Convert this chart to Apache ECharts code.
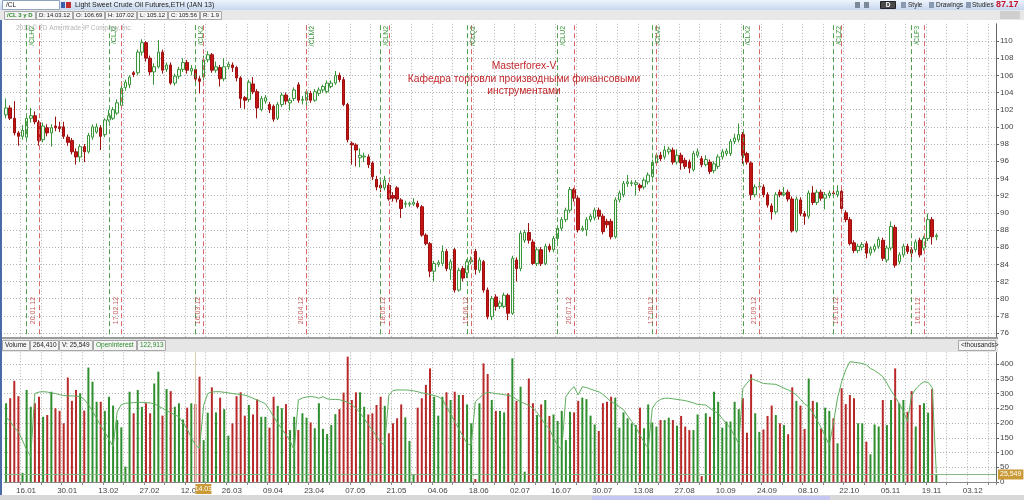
<!DOCTYPE html>
<html><head><meta charset="utf-8">
<script src="https://cdn.jsdelivr.net/npm/echarts/dist/echarts.min.js"></script>
<style>html,body{margin:0;padding:0;background:#fff}#c{width:1024px;height:500px}</style>
</head><body><div id="c"></div>
<script>
// ---------- data ----------
const firstSession = [2012, 0, 10];
const slotCount = 241;
const tickLabels = ['16.01','30.01','13.02','27.02','12.03','26.03','09.04','23.04','07.05','21.05','04.06','18.06','02.07','16.07','30.07','13.08','27.08','10.09','24.09','08.10','22.10','05.11','19.11','03.12'];
const rollDates = ['17.01','14.02','14.03','20.04','16.05','14.06','16.07','16.08','17.09','17.10','13.11'];
const rollLabels = ['/CLH2','/CLJ2','/CLK2','/CLM2','/CLN2','/CLQ2','/CLU2','/CLV2','/CLX2','/CLZ2','/CLF3'];
const expiryDates = ['20.01','17.02','16.03','20.04','18.05','15.06','20.07','17.08','21.09','19.10','16.11'];
const expiryLabels = ['20.01.12','17.02.12','16.03.12','20.04.12','18.05.12','15.06.12','20.07.12','17.08.12','21.09.12','19.10.12','16.11.12'];
const cursorDate = '14.03';
const lastPrice = 87.36;
const currentVolume = 25.549;

const open = [101.4,102.2,101.0,99.3,98.9,98.8,101.0,101.3,100.5,98.5,
99.9,99.3,100.1,100.0,100.0,98.8,98.4,97.1,96.5,97.7,
97.1,98.8,99.4,99.9,99.1,100.8,101.0,101.6,102.5,104.6,
104.9,106.3,106.3,108.7,109.8,108.0,106.4,107.0,108.7,106.7,
107.2,105.1,105.9,106.7,107.5,106.5,106.69,105.6,105.8,107.8,
108.4,106.6,106.9,105.6,107.0,107.2,106.9,105.7,103.4,103.2,
105.0,104.1,102.0,103.0,102.6,102.4,101.0,102.6,103.7,102.8,
103.3,104.9,103.1,103.1,103.9,103.1,103.9,104.3,104.1,104.7,
105.1,106.0,105.5,102.6,98.1,97.9,96.4,96.5,96.5,95.8,
93.9,93.2,92.9,93.2,92.0,92.9,91.5,91.0,91.0,91.0,
91.1,90.7,87.4,86.4,83.2,84.0,84.1,85.5,83.4,85.7,
81.0,83.5,83.0,84.3,85.5,83.3,84.3,81.0,77.9,80.2,
79.1,79.1,80.4,78.3,84.5,83.5,86.8,87.7,86.6,84.1,
85.7,84.1,86.1,85.7,87.0,88.2,89.2,90.3,92.7,91.7,
88.0,88.0,89.2,89.4,90.3,89.6,89.0,89.0,87.2,91.5,
92.1,93.4,93.4,93.3,93.2,93.0,93.6,94.2,95.8,96.7,
96.5,97.1,97.3,95.9,96.7,96.1,95.9,95.0,96.7,96.3,
95.6,95.9,94.9,95.4,96.5,96.9,96.9,98.3,98.5,99.1,
96.9,95.8,92.1,93.0,93.0,92.1,90.8,90.1,92.4,92.1,
92.4,91.6,87.9,91.5,89.9,89.6,92.3,91.2,92.4,91.7,
92.0,92.3,92.1,92.5,90.0,89.2,86.5,85.6,86.0,86.4,
85.3,85.7,86.1,86.8,84.5,85.9,88.3,84.3,85.1,86.1,
85.7,85.7,86.8,85.9,87.0,89.2,87.2];
const close = [102.2,101.0,99.3,98.9,99.6,101.0,101.3,100.6,98.4,100.1,
99.3,99.9,99.9,99.8,98.9,98.2,97.1,96.5,97.7,97.1,
99.0,100.0,100.0,98.9,100.8,101.3,102.0,102.8,104.5,105.2,
105.8,106.1,108.7,109.8,108.0,106.4,107.0,108.7,106.6,107.2,
105.1,105.9,106.7,107.5,106.6,106.8,105.56,105.3,107.8,108.4,
106.6,107.0,105.6,107.0,107.3,106.9,105.7,103.3,103.1,105.2,
104.1,102.2,103.3,103.4,102.0,100.9,102.6,103.7,103.0,103.1,
104.3,103.1,103.2,104.1,103.1,104.1,104.3,104.7,105.1,105.1,
106.0,105.5,102.6,98.5,97.9,97.3,96.7,96.6,95.6,94.2,
93.0,92.9,93.8,91.6,91.7,91.6,90.5,91.1,91.1,91.2,
90.7,87.4,86.4,83.2,84.1,84.2,85.5,83.5,84.3,81.0,
83.3,82.4,84.3,84.5,83.4,84.5,81.0,77.9,80.0,79.1,
79.5,80.4,78.3,84.7,83.5,87.6,87.7,86.8,84.1,85.7,
84.1,86.1,85.7,87.0,88.2,89.2,90.3,92.7,91.7,88.0,
88.2,89.2,89.6,90.3,89.6,87.8,88.6,87.2,91.5,92.3,
93.4,93.6,93.5,93.5,92.9,93.8,94.4,95.9,96.7,96.3,
97.3,97.4,95.9,96.7,95.8,95.4,95.2,96.9,97.1,95.6,
96.2,94.8,95.7,96.5,97.1,97.2,98.3,98.7,99.1,96.7,
95.9,92.1,93.0,93.1,92.1,90.9,90.1,92.1,92.1,92.3,
91.6,87.9,91.6,89.9,89.6,92.3,91.2,92.4,91.7,92.1,
92.3,92.2,92.5,90.5,89.2,86.4,85.6,86.1,86.3,85.3,
85.8,86.1,86.9,84.7,85.9,88.4,83.9,85.1,86.1,85.5,
85.3,86.6,85.1,87.0,89.2,87.2,87.36];
const low = [101.0,100.8,99.0,97.8,98.5,98.5,100.5,100.3,97.8,98.2,
98.9,97.7,99.5,99.4,98.6,97.8,96.8,95.6,95.9,95.9,
96.9,98.5,99.2,97.3,98.8,100.6,100.8,101.4,102.3,104.2,
104.5,105.8,106.0,108.3,107.6,106.0,104.9,106.8,106.2,106.4,
104.9,104.8,105.6,106.4,106.2,106.0,105.12,103.9,105.4,107.5,
106.3,106.3,104.7,105.3,106.7,106.4,105.3,102.2,102.1,102.9,
103.8,101.0,101.8,102.7,101.6,100.6,100.8,102.3,102.6,101.9,
103.0,102.8,102.6,102.0,102.8,102.9,103.6,104.0,103.9,104.5,
104.9,105.2,102.4,98.2,95.6,95.4,95.3,95.9,95.2,93.8,
92.6,92.4,92.6,91.4,91.3,91.2,89.4,90.6,90.7,90.8,
90.5,87.2,86.2,82.5,82.0,83.7,83.8,83.2,82.2,80.7,
80.8,82.0,82.4,84.0,82.8,83.0,80.7,77.6,77.5,78.6,
78.8,78.9,77.5,78.1,82.0,83.2,86.5,86.4,83.9,83.8,
83.8,83.9,85.4,85.4,86.7,87.9,88.9,90.0,91.3,87.7,
87.8,87.3,88.9,89.1,89.2,87.5,88.2,86.9,87.0,91.2,
91.8,93.0,93.1,92.0,92.5,92.7,93.3,93.9,95.5,96.0,
96.2,96.8,95.6,95.6,95.0,95.1,94.6,94.8,96.4,95.3,
95.4,94.5,94.6,95.1,96.2,96.6,96.6,98.0,98.2,95.7,
95.6,91.5,91.8,92.7,91.8,90.6,89.2,89.8,91.8,91.9,
91.3,87.7,87.7,89.6,88.6,89.3,90.9,90.9,91.4,90.4,
91.7,91.8,91.8,90.2,88.9,86.2,85.3,85.3,85.6,84.7,
85.0,85.4,85.8,84.4,84.2,85.6,83.6,84.0,84.8,85.2,
84.8,85.4,84.8,85.6,86.7,86.3,86.8];
const high = [103.3,102.5,103.0,99.5,100.2,101.3,102.2,101.8,100.8,100.5,
100.3,100.3,101.2,100.6,100.6,99.1,98.7,97.5,98.0,98.0,
99.3,100.3,100.4,100.2,101.0,102.0,102.3,103.2,104.8,105.5,
106.0,106.5,109.0,110.2,110.0,108.3,107.4,110.1,109.0,107.5,
107.5,106.2,107.0,108.0,107.8,107.2,107.02,105.9,108.3,108.8,
108.6,107.6,107.2,108.0,107.6,107.5,107.1,105.9,103.6,105.5,
105.8,104.4,103.6,103.7,102.9,102.6,102.9,104.0,104.0,103.4,
104.6,105.2,103.6,104.4,104.2,104.4,104.6,104.9,105.4,105.4,
106.5,106.3,105.8,102.8,98.3,98.1,97.5,97.0,96.8,96.0,
94.3,94.0,94.3,93.5,92.4,93.1,91.7,91.4,91.3,91.7,
91.4,90.9,87.6,86.6,84.4,84.5,86.2,85.8,84.6,85.9,
83.6,83.8,84.6,84.9,85.8,84.8,84.5,81.3,80.3,80.5,
79.8,80.7,80.6,85.0,84.8,87.9,88.0,88.8,86.9,86.0,
86.0,86.4,86.4,87.3,88.5,89.5,90.6,93.0,92.9,92.0,
88.5,89.5,89.9,90.6,90.6,89.9,89.3,89.3,91.8,92.6,
93.7,94.4,93.8,93.8,93.4,94.1,94.7,96.2,97.0,97.1,
97.8,97.7,97.6,97.4,97.0,96.4,96.2,97.2,97.5,96.6,
96.7,96.2,96.0,96.8,97.4,97.5,98.6,99.2,100.4,99.4,
97.1,96.0,93.3,93.9,93.3,92.4,91.1,92.4,92.7,93.0,
92.7,91.9,91.9,91.8,90.2,92.6,93.1,92.7,92.7,92.4,
92.6,92.6,93.2,93.1,90.3,89.5,86.8,86.4,86.6,86.7,
86.1,86.4,87.2,87.1,86.2,89.0,88.6,85.4,86.4,86.4,
86.0,86.9,87.1,87.3,89.9,89.5,87.6];
const volume = [267,284,343,291,31,312,255,267,289,221,
227,306,250,241,199,354,275,312,301,242,
388,340,272,272,241,289,259,210,185,52,
306,233,312,255,267,233,334,374,225,315,
308,255,267,212,252,267,264.41,357,142,235,
321,236,286,247,157,199,291,304,225,261,
229,280,221,221,184,289,258,250,264,176,
221,176,233,218,202,182,267,180,163,193,
230,247,303,425,278,304,304,255,229,233,
261,289,258,165,199,216,263,219,139,26,
252,284,329,385,289,225,289,304,278,306,
295,295,263,199,10,267,402,366,278,241,
241,236,301,419,275,323,35,351,267,227,
263,278,224,229,207,241,142,238,236,275,
286,281,225,195,173,267,272,289,286,184,
236,216,199,193,252,182,263,202,188,210,
210,218,210,191,224,188,176,176,229,20,
233,221,306,272,184,205,205,272,247,284,
167,365,233,170,178,224,259,227,199,193,
162,321,275,259,180,351,275,270,182,252,
241,216,131,318,264,295,284,199,199,137,
94,195,188,278,193,278,385,267,278,238,
308,188,261,267,235,315,25.549];
const openInterest = [220,205,185,170,140,110,86,300,305,306,
305,302,300,296,293,292,292,291,290,280,
262,240,216,190,170,145,120,238,262,267,
268,269,270,270,269,268,265,258,250,242,
235,228,221,200,180,150,125,114,260,300,
305,306,306,304,302,300,298,297,294,290,
284,278,272,265,245,221,200,180,160,140,
108,278,285,288,290,288,284,289,282,280,
280,279,275,270,262,250,235,215,195,175,
155,135,125,295,310,312,312,312,311,309,
306,302,300,296,293,289,280,255,230,205,
180,155,130,125,272,285,298,304,302,300,
298,296,294,290,280,272,266,260,250,236,
215,195,180,150,125,108,289,310,323,295,
323,320,315,310,306,297,285,272,265,255,
245,225,205,185,160,135,114,250,270,280,
284,284,282,280,278,276,272,268,263,262,
261,250,240,233,215,198,182,155,130,317,
335,351,345,340,334,333,332,331,325,318,
312,305,295,280,265,255,235,210,185,155,
125,200,284,340,380,408,406,404,402,397,
385,378,368,357,335,310,289,265,240,205,
295,315,330,340,338,320,30];

// ---------- categories (weekday sessions) ----------
const pad = n => (n < 10 ? '0' : '') + n;
const categories = [];
{
  const d = new Date(firstSession[0], firstSession[1], firstSession[2]);
  while (categories.length < slotCount) {
    const w = d.getDay();
    if (w !== 0 && w !== 6) categories.push(pad(d.getDate()) + '.' + pad(d.getMonth() + 1));
    d.setDate(d.getDate() + 1);
  }
}
const weekStart = (i) => categories[i] !== undefined && i % 5 === 4;

const candleData = open.map((o, i) => [o, close[i], low[i], high[i]]);
const UPC = '#3a953a', DNC = '#c41414';
const volumeData = volume.map((v, i) => ({ value: v, itemStyle: { color: close[i] >= open[i] ? '#2f8f2f' : '#b82a2a' } }));

const FONT = 'Liberation Sans';
const gridLine = { color: '#b2b2b2', type: [1, 2], width: 1 };

const rollMarks = rollDates.map((d, k) => ({
  xAxis: categories.indexOf(d),
  lineStyle: { color: '#4f9f4f', type: [5, 3], width: 1 },
  label: { show: true, position: 'insideEndBottom', formatter: rollLabels[k], color: '#3c963c', fontSize: 7, fontFamily: FONT, distance: 2 }
}));
const expiryMarks = expiryDates.map((d, k) => ({
  xAxis: categories.indexOf(d),
  lineStyle: { color: '#d46a6a', type: [5, 3], width: 1 },
  label: { show: true, position: 'insideStartTop', formatter: expiryLabels[k], color: '#c85a5a', fontSize: 7, fontFamily: FONT, distance: 2, padding: [0, 0, 0, 24] }
}));

const option = {
  animation: false,
  backgroundColor: '#ffffff',
  grid: [
    { left: 4, right: 28, top: 23.8, height: 326.4, outerBoundsMode: 'none' },
    { left: 4, right: 28, top: 349.25, height: 132.75, outerBoundsMode: 'none' }
  ],
  xAxis: [
    { type: 'category', gridIndex: 0, data: categories, boundaryGap: true,
      axisLine: { show: false }, axisTick: { show: false }, axisLabel: { show: false },
      splitLine: { show: true, interval: weekStart, lineStyle: gridLine } },
    { type: 'category', gridIndex: 1, data: categories, boundaryGap: true,
      axisLine: { show: true, lineStyle: { color: '#8a8a8a' } },
      axisTick: { show: true, interval: weekStart, length: 3, lineStyle: { color: '#8a8a8a' } },
      axisLabel: { show: true, interval: (i, v) => tickLabels.indexOf(v) >= 0, color: '#444', fontSize: 8, fontFamily: FONT, margin: 5, padding: [0, 0, 0, 7] },
      splitLine: { show: true, interval: weekStart, lineStyle: gridLine } }
  ],
  yAxis: [
    { type: 'value', gridIndex: 0, position: 'right', min: 74, max: 112, interval: 2, scale: true,
      axisLine: { show: true, lineStyle: { color: '#666' } },
      axisTick: { show: true, length: 3, lineStyle: { color: '#666' } },
      axisLabel: { color: '#444', fontSize: 8, fontFamily: FONT, margin: 4, showMinLabel: false, showMaxLabel: false },
      splitLine: { show: true, showMinLine: false, showMaxLine: false, lineStyle: gridLine } },
    { type: 'value', gridIndex: 1, position: 'right', min: 0, max: 450, interval: 50,
      axisLine: { show: true, lineStyle: { color: '#666' } },
      axisTick: { show: true, length: 3, lineStyle: { color: '#666' } },
      axisLabel: { color: '#444', fontSize: 8, fontFamily: FONT, margin: 4, showMaxLabel: false },
      splitLine: { show: true, showMinLine: false, showMaxLine: false, lineStyle: gridLine } }
  ],
  series: [
    { type: 'candlestick', xAxisIndex: 0, yAxisIndex: 0, data: candleData, barWidth: 3,
      itemStyle: { color: '#f3fbf3', color0: DNC, borderColor: UPC, borderColor0: '#9c1010', borderWidth: 1 },
      markLine: { symbol: ['none', 'none'], silent: true, animation: false,
        data: [ ...rollMarks, ...expiryMarks,
          { yAxis: lastPrice, lineStyle: { opacity: 0 },
            label: { show: true, position: 'end', formatter: lastPrice.toFixed(2), backgroundColor: '#1e8f1e', color: '#fff', fontSize: 7, fontFamily: FONT, padding: [2, 2, 1, 2], distance: 2 } } ] } },
    { type: 'bar', xAxisIndex: 1, yAxisIndex: 1, data: volumeData, barWidth: 2,
      markLine: { symbol: ['none', 'none'], silent: true, animation: false,
        data: [
          { yAxis: currentVolume, lineStyle: { color: '#86b886', type: 'solid', width: 1 },
            label: { show: true, position: 'end', formatter: '25,549', backgroundColor: '#c99a36', color: '#fff', fontSize: 7, fontFamily: FONT, padding: [2, 2, 1, 2], distance: 2 } },
          { xAxis: categories.indexOf(cursorDate), lineStyle: { color: '#d9ccae', type: 'solid', width: 1 }, label: { show: false } }
        ] } },
    { type: 'line', xAxisIndex: 1, yAxisIndex: 1, data: openInterest, symbol: 'none', z: 3,
      lineStyle: { color: '#5fae5f', width: 1 } }
  ]
};

const chart = echarts.init(document.getElementById('c'));
chart.setOption(option);

// ---------- application chrome (headers, labels) ----------
const G = [];
const mctx = document.createElement('canvas').getContext('2d');
function tw(t, font) { mctx.font = font; return mctx.measureText(t).width; }
function rect(x, y, w, h, fill, stroke) {
  G.push({ type: 'rect', z: 100, silent: true, shape: { x, y, width: w, height: h },
    style: { fill, stroke: stroke || null, lineWidth: stroke ? 1 : 0 } });
}
function txt(x, y, t, opt) {
  G.push({ type: 'text', z: 101, silent: true, x, y,
    style: Object.assign({ text: t, fill: '#222', font: '7px "Liberation Sans"', verticalAlign: 'middle', align: 'left' }, opt || {}) });
}
function boxRow(x0, y, h, items, defFont) {
  let x = x0;
  items.forEach(b => {
    const f = b.font || defFont;
    const w = Math.round(tw(b.t, f) + 5);
    rect(x + 0.5, y + 0.5, w, h, '#f4f4f4', '#a8a8a8');
    txt(x + 3, y + h / 2 + 0.5, b.t, { fill: b.c || '#222', font: f });
    x += w + 1;
  });
}
// top bar
G.push({ type: 'rect', z: 100, silent: true, shape: { x: 0, y: 0, width: 1024, height: 10 },
  style: { fill: new echarts.graphic.LinearGradient(0, 0, 0, 1, [{ offset: 0, color: '#eef4fc' }, { offset: 1, color: '#c6d7ee' }]) } });
rect(2.5, 0.5, 57, 9, '#ffffff', '#8fa3bd'); txt(6, 5, '/CL', { font: '6.5px "Liberation Sans"' });
rect(61, 2, 4, 6, '#3d5fb0'); rect(66, 2, 5, 6, '#c03030');
txt(75, 5, 'Light Sweet Crude Oil Futures,ETH (JAN 13)', { font: '7px "Liberation Sans"' });
rect(855, 2, 5, 6, '#7a8a9a'); rect(864, 2, 5, 6, '#7a8a9a');
rect(880.5, 1.5, 15, 7, '#4a4a4a', '#222'); txt(888, 5, 'D', { fill: '#fff', align: 'center', font: 'bold 6.5px "Liberation Sans"' });
rect(901, 2, 5, 6, '#8a9ab0'); txt(908, 5, 'Style', { font: '6.5px "Liberation Sans"' });
rect(929, 2, 5, 6, '#8a9ab0'); txt(936, 5, 'Drawings', { font: '6.5px "Liberation Sans"' });
rect(966, 2, 5, 6, '#8a9ab0'); txt(972, 5, 'Studies', { font: '6.5px "Liberation Sans"' });
txt(996, 5, '87.17', { fill: '#c8102e', font: 'bold 9px "Liberation Sans"' });
// second bar
rect(0, 10, 1024, 10, '#e8e8e8');
rect(1000, 11, 20, 8, '#cfcfcf');
boxRow(4, 11, 8, [
  { t: '/CL 3 y D', c: '#2a8a2a', font: 'bold 6px "Liberation Sans"' },
  { t: 'D: 14.03.12' }, { t: 'O: 106.69' }, { t: 'H: 107.02' }, { t: 'L: 105.12' }, { t: 'C: 105.56' }, { t: 'R: 1.9' }
], '6px "Liberation Sans"');
txt(16, 28, '2012 \u00a9 TD Ameritrade IP Company, Inc.', { fill: '#b4b4b4', font: '6.5px "Liberation Sans"' });
// annotation
const annFont = '10.3px "Liberation Sans"';
txt(524, 66, 'Masterforex-V', { fill: '#c0262a', align: 'center', font: annFont });
txt(524, 79, 'Кафедра торговли производными финансовыми', { fill: '#c0262a', align: 'center', font: annFont });
txt(524, 91.5, 'инструментами', { fill: '#c0262a', align: 'center', font: annFont });
// volume header
rect(0, 337, 998, 2, '#9c9c9c');
rect(0, 339, 998, 13, '#e6e6e6');
rect(998, 336, 26, 16, '#ffffff');
boxRow(2, 340, 10, [
  { t: 'Volume' }, { t: '264,410' }, { t: 'V: 25,549' }, { t: 'OpenInterest', c: '#2a8a2a' }, { t: '122,913', c: '#2a8a2a' }
], '6.5px "Liberation Sans"');
rect(958.5, 340.5, 37, 10, '#f4f4f4', '#a8a8a8'); txt(961, 345.5, '<thousands>', { font: '6.5px "Liberation Sans"' });
// frame
rect(0, 20, 2, 476, '#4a6aa8');
rect(0, 495, 1024, 5, '#d8d8d8');
rect(592, 496, 238, 4, '#c6c6f2');
// cursor date box
const cx = chart.convertToPixel({ xAxisIndex: 1 }, categories.indexOf(cursorDate));
rect(cx, 484, 16, 10, '#c99a36'); txt(cx + 8, 489, cursorDate, { fill: '#fff', align: 'center' });
chart.setOption({ graphic: { elements: G } });
</script></body></html>
